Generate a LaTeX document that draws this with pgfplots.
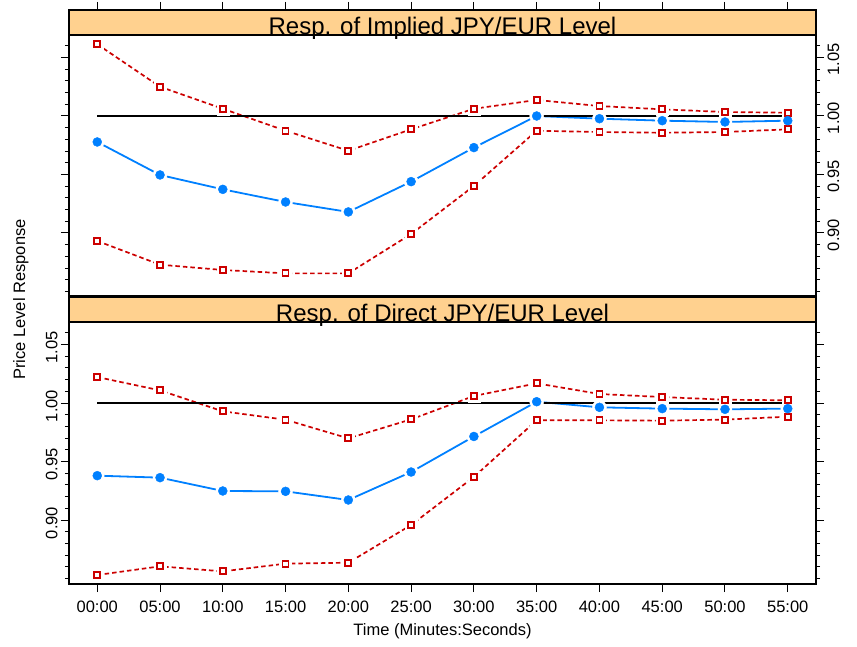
\documentclass[border=0pt]{standalone}
\usepackage{fontspec}
\setmainfont{Liberation Sans}
\usepackage{pgfplots}
\pgfplotsset{compat=1.18}
\usepackage{pgfplotstable}
\definecolor{rblue}{RGB}{0,128,255}
\definecolor{rred}{RGB}{204,0,0}
\definecolor{stripcol}{RGB}{255,209,143}

\pgfplotstableread{
x blue up lo
0 0.9778 1.0613 0.8932
1 0.9496 1.0250 0.8729
2 0.9373 1.0062 0.8684
3 0.9265 0.9874 0.8655
4 0.9180 0.9703 0.8655
5 0.9439 0.9886 0.8991
6 0.9730 1.0062 0.9402
7 1.0000 1.0137 0.9874
8 0.9977 1.0085 0.9863
9 0.9960 1.0057 0.9857
10 0.9949 1.0034 0.9863
11 0.9960 1.0028 0.9886
}\implied

\pgfplotstableread{
x blue up lo
0 0.9379 1.0222 0.8530
1 0.9362 1.0108 0.8604
2 0.9248 0.9929 0.8561
3 0.9245 0.9857 0.8627
4 0.9171 0.9698 0.8635
5 0.9410 0.9860 0.8957
6 0.9714 1.0060 0.9368
7 1.0011 1.0168 0.9852
8 0.9963 1.0077 0.9852
9 0.9952 1.0051 0.9849
10 0.9946 1.0028 0.9858
11 0.9952 1.0023 0.9883
}\direct

\pgfplotsset{
  panel/.style={
    scale only axis, width=747pt,
    xmin=-0.45, xmax=11.45, xtick={0,...,11},
    ymax=1.0906,
    tick align=outside, major tick length=8pt, minor tick length=4pt,
    ytick={0.90,0.95,1.00,1.05}, yticklabels={0.90,0.95,1.00,1.05},
    minor ytick={0.85,0.86,0.87,0.88,0.89,0.91,0.92,0.93,0.94,0.96,0.97,0.98,0.99,1.01,1.02,1.03,1.04,1.06},
    ytick pos=both,
    axis line style={line width=1.2pt},
    tick style={black, line width=1pt},
    ticklabel style={font=\fontsize{16.5}{16.5}\selectfont},
    clip=false,
  },
  redline/.style={rred, line width=1.7pt, dash pattern=on 4.5pt off 3pt},
  blueline/.style={rblue, line width=1.8pt},
  halo c/.style={only marks, mark=*, mark size=7pt, white},
  halo s/.style={only marks, mark=square*, mark size=6pt, white},
  bmark/.style={only marks, mark=*, mark size=4.5pt, rblue},
  rmark/.style={only marks, mark=square*, mark size=3pt, mark options={draw=rred, fill=white, line width=1.8pt}},
}

\begin{document}
\begin{tikzpicture}
\path[use as bounding box] (0pt,0pt) rectangle (857pt,646pt);

% top panel
\begin{axis}[panel,
  at={(69pt,350pt)}, anchor=south west, height=286pt,
  ymin=0.84615,
  xtick pos=right, xticklabel pos=left, xticklabels={},
  yticklabel pos=right,
  yticklabel style={rotate=90, anchor=north, xshift=-2pt},
]
\addplot[redline] table[x=x,y=up]{\implied};
\addplot[redline] table[x=x,y=lo]{\implied};
\addplot[blueline] table[x=x,y=blue]{\implied};
\addplot[halo s] table[x=x,y=up]{\implied};
\addplot[halo s] table[x=x,y=lo]{\implied};
\addplot[halo c] table[x=x,y=blue]{\implied};
\addplot[black, line width=1.4pt] coordinates {(0,1) (11,1)};
\addplot[rmark] table[x=x,y=up]{\implied};
\addplot[rmark] table[x=x,y=lo]{\implied};
\addplot[bmark] table[x=x,y=blue]{\implied};
\fill[stripcol] (axis cs:-0.45,1.06923) rectangle (axis cs:11.45,1.0906);
\draw[line width=1.2pt] (axis cs:-0.45,1.06923) rectangle (axis cs:11.45,1.0906);
\node[anchor=base, inner sep=0pt, font=\fontsize{24}{24}\selectfont] at (axis cs:5.5,1.0697) {Resp. of Implied JPY/EUR Level};
\end{axis}

% bottom panel
\begin{axis}[panel,
  at={(69pt,62pt)}, anchor=south west, height=287pt,
  ymin=0.84530,
  xtick pos=left,
  xticklabels={00:00,05:00,10:00,15:00,20:00,25:00,30:00,35:00,40:00,45:00,50:00,55:00},
  xticklabel style={yshift=-5pt},
  yticklabel pos=left,
  yticklabel style={rotate=90, anchor=south, xshift=-3pt},
  xlabel={Time (Minutes:Seconds)},
  xlabel style={at={(axis description cs:0.5,0)}, anchor=base, yshift=-51.7pt, inner sep=0pt, font=\fontsize{16.5}{16.5}\selectfont},
]
\addplot[redline] table[x=x,y=up]{\direct};
\addplot[redline] table[x=x,y=lo]{\direct};
\addplot[blueline] table[x=x,y=blue]{\direct};
\addplot[halo s] table[x=x,y=up]{\direct};
\addplot[halo s] table[x=x,y=lo]{\direct};
\addplot[halo c] table[x=x,y=blue]{\direct};
\addplot[black, line width=1.4pt] coordinates {(0,1) (11,1)};
\addplot[rmark] table[x=x,y=up]{\direct};
\addplot[rmark] table[x=x,y=lo]{\direct};
\addplot[bmark] table[x=x,y=blue]{\direct};
\fill[stripcol] (axis cs:-0.45,1.06923) rectangle (axis cs:11.45,1.0906);
\draw[line width=1.2pt] (axis cs:-0.45,1.06923) rectangle (axis cs:11.45,1.0906);
\node[anchor=base, inner sep=0pt, font=\fontsize{24}{24}\selectfont] at (axis cs:5.5,1.0697) {Resp. of Direct JPY/EUR Level};
\end{axis}

\node[rotate=90, anchor=base west, inner sep=0pt, font=\fontsize{16.5}{16.5}\selectfont] at (25pt,266pt) {Price Level Response};
\end{tikzpicture}
\end{document}
